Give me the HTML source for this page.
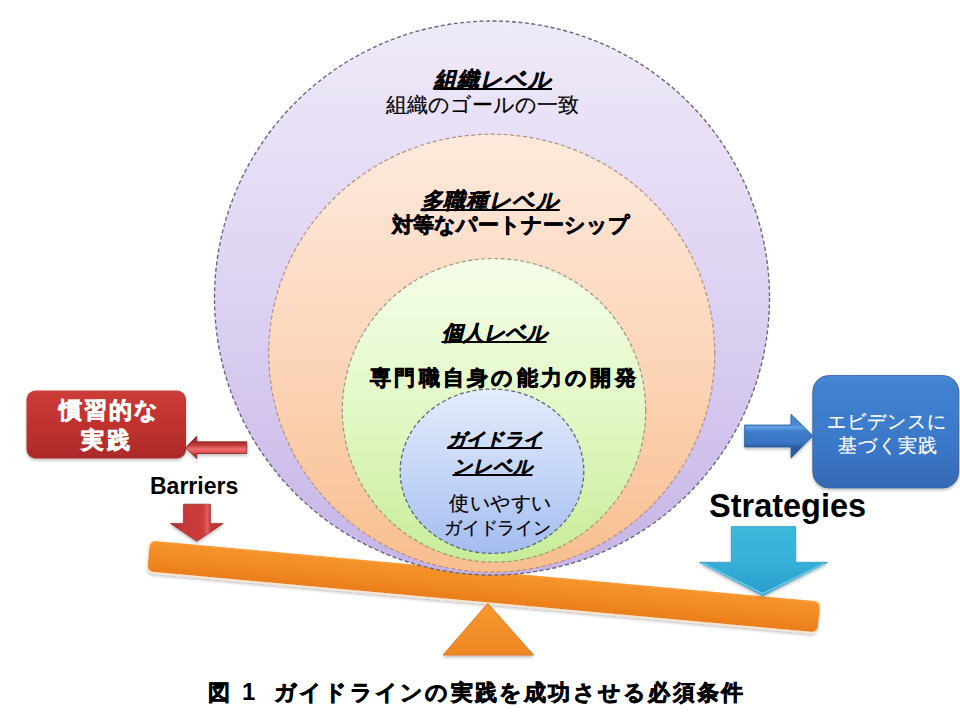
<!DOCTYPE html>
<html><head><meta charset="utf-8">
<style>
html,body{margin:0;padding:0;background:#fff;}
body{width:960px;height:720px;position:relative;overflow:hidden;font-family:"Liberation Sans",sans-serif;}
svg{position:absolute;left:0;top:0;}
.t{position:absolute;white-space:nowrap;color:#000;line-height:1;}
.b{font-weight:bold;}
.bi{font-weight:bold;font-style:italic;text-decoration:underline;text-decoration-thickness:1.5px;text-underline-offset:1px;}
.w{color:#fff;}
.k{-webkit-text-stroke:0.45px currentColor;}
.r{-webkit-text-stroke:0.2px currentColor;}
.h{-webkit-text-stroke:0.7px currentColor;}
</style></head><body>
<svg width="960" height="720" viewBox="0 0 960 720">
<defs>
<linearGradient id="gP" x1="0" y1="0" x2="0" y2="1">
<stop offset="0" stop-color="#efeaf9"/><stop offset="0.5" stop-color="#ddd2f2"/><stop offset="1" stop-color="#c6b4e6"/></linearGradient>
<linearGradient id="gO" x1="0" y1="0" x2="0" y2="1">
<stop offset="0" stop-color="#feeadd"/><stop offset="0.5" stop-color="#fcd6bb"/><stop offset="1" stop-color="#f8be8e"/></linearGradient>
<linearGradient id="gG" x1="0" y1="0" x2="0" y2="1">
<stop offset="0" stop-color="#f5fde9"/><stop offset="0.5" stop-color="#e2f8c6"/><stop offset="1" stop-color="#c8ec98"/></linearGradient>
<linearGradient id="gB" x1="0" y1="0" x2="0" y2="1">
<stop offset="0" stop-color="#e4ecfc"/><stop offset="0.5" stop-color="#c6d6f6"/><stop offset="1" stop-color="#a4bdf0"/></linearGradient>
<linearGradient id="gBar" x1="0" y1="0" x2="0" y2="1">
<stop offset="0" stop-color="#f8a040"/><stop offset="0.08" stop-color="#f5922a"/><stop offset="0.5" stop-color="#f28b24"/><stop offset="1" stop-color="#ea7e1c"/></linearGradient>
<linearGradient id="gTri" x1="0" y1="0" x2="0" y2="1">
<stop offset="0" stop-color="#f7982e"/><stop offset="1" stop-color="#ef8826"/></linearGradient>
<linearGradient id="gRed" x1="0" y1="0" x2="0" y2="1">
<stop offset="0" stop-color="#cc3c38"/><stop offset="0.5" stop-color="#bf322f"/><stop offset="1" stop-color="#ac2a2a"/></linearGradient>
<linearGradient id="gRA" gradientUnits="userSpaceOnUse" x1="0" y1="441.5" x2="0" y2="454">
<stop offset="0" stop-color="#a02c2c"/><stop offset="0.3" stop-color="#c03c3c"/><stop offset="0.6" stop-color="#ee6e6e"/><stop offset="0.85" stop-color="#e05858"/><stop offset="1" stop-color="#b03434"/></linearGradient>
<linearGradient id="gRD" x1="0" y1="0" x2="1" y2="0">
<stop offset="0" stop-color="#b83030"/><stop offset="0.3" stop-color="#c93838"/><stop offset="0.62" stop-color="#cd3c3c"/><stop offset="0.7" stop-color="#e06060"/><stop offset="0.76" stop-color="#c83a3a"/><stop offset="1" stop-color="#b02c2c"/></linearGradient>
<linearGradient id="gBlue" x1="0" y1="0" x2="0" y2="1">
<stop offset="0" stop-color="#4a8ad6"/><stop offset="0.08" stop-color="#4082d0"/><stop offset="0.6" stop-color="#3b78c8"/><stop offset="1" stop-color="#3468b4"/></linearGradient>
<linearGradient id="gBA" gradientUnits="userSpaceOnUse" x1="0" y1="424.5" x2="0" y2="447.5">
<stop offset="0" stop-color="#4a88d4"/><stop offset="0.12" stop-color="#62a2e6"/><stop offset="0.3" stop-color="#3e7cca"/><stop offset="0.8" stop-color="#3a74c2"/><stop offset="1" stop-color="#2a5aa0"/></linearGradient>
<linearGradient id="gCy" x1="0" y1="0" x2="0" y2="1">
<stop offset="0" stop-color="#3cb8dc"/><stop offset="0.5" stop-color="#36b0d8"/><stop offset="1" stop-color="#2a9ccc"/></linearGradient>
<filter id="sh" x="-10%" y="-10%" width="120%" height="130%">
<feGaussianBlur in="SourceAlpha" stdDeviation="1.5"/><feOffset dy="1.5"/><feComponentTransfer><feFuncA type="linear" slope="0.25"/></feComponentTransfer>
<feMerge><feMergeNode/><feMergeNode in="SourceGraphic"/></feMerge></filter>
</defs>
<!-- bar -->
<g transform="translate(150,540.5) rotate(5.2)" filter="url(#sh)">
<rect x="-0.5" y="0.5" width="673" height="32" rx="6" fill="#fde6c8"/>
<rect x="0" y="0" width="673" height="31" rx="6" fill="url(#gBar)"/>
</g>
<!-- triangle -->
<polygon points="487.8,603.5 533.5,655 443,655" fill="url(#gTri)" stroke="#dc7a24" stroke-width="1" stroke-linejoin="round" filter="url(#sh)"/>
<!-- circles -->
<ellipse cx="492" cy="298" rx="277.5" ry="277" fill="url(#gP)" stroke="#686280" stroke-width="1.35" stroke-dasharray="4 2.5"/>
<ellipse cx="491.7" cy="353.2" rx="223" ry="219" fill="url(#gO)" stroke="#b49080" stroke-width="1.2" stroke-dasharray="4 2.5"/>
<ellipse cx="494" cy="410.3" rx="151.7" ry="151.8" fill="url(#gG)" stroke="#969a78" stroke-width="1.2" stroke-dasharray="4 2.5"/>
<ellipse cx="492" cy="471.2" rx="91.8" ry="82.2" fill="url(#gB)" stroke="#5e687c" stroke-width="1.3" stroke-dasharray="4 2.5"/>
<!-- red box -->
<rect x="26.5" y="390.5" width="159.5" height="68" rx="9" fill="url(#gRed)" filter="url(#sh)"/>
<!-- red left arrow -->
<polygon points="185.5,447.7 196.8,436 196.8,441.8 246.8,441.8 246.8,453.5 196.8,453.5 196.8,458.6" fill="url(#gRA)" stroke="#8a2424" stroke-width="0.8" stroke-linejoin="miter" filter="url(#sh)"/>
<!-- red down arrow -->
<polygon points="183.6,504.2 210.4,504.2 210.4,523.4 223.2,523.4 196.8,541.3 170.4,523.4 183.6,523.4" fill="url(#gRD)" stroke="#8c2626" stroke-width="0.7" filter="url(#sh)"/>
<!-- blue box -->
<rect x="812.8" y="375.5" width="146" height="112.5" rx="16" fill="url(#gBlue)" stroke="#2e5e9c" stroke-width="0.8" filter="url(#sh)"/>
<!-- blue arrow -->
<polygon points="744.6,425 791,425 791,414.2 813,435.8 791,458 791,447 744.6,447" fill="url(#gBA)" stroke="#2c5a98" stroke-width="0.8" filter="url(#sh)"/>
<!-- cyan down arrow -->
<g filter="url(#sh)">
<polygon points="731.4,526.6 795.6,526.6 795.6,562.3 827.6,562.3 762.8,595.8 699.4,562.3 731.4,562.3" fill="url(#gCy)" stroke="#2a94c0" stroke-width="0.7"/>
<polyline points="703,563.5 762.8,593.8 824,563.5" fill="none" stroke="#78d2ee" stroke-width="1.6" stroke-opacity="0.8"/>
</g>
</svg>

<div class="t bi k" id="t1" style="left:434px;top:69px;font-size:22px;letter-spacing:1px;">組織レベル</div>
<div class="t r" id="t2" style="left:386px;top:94px;font-size:21px;">組織のゴールの一致</div>
<div class="t bi k" id="t3" style="left:420.5px;top:190px;font-size:22px;letter-spacing:0.7px;">多職種レベル</div>
<div class="t b k h" id="t4" style="left:392px;top:213.5px;font-size:21px;">対等なパートナーシップ</div>
<div class="t bi k" id="t5" style="left:441.5px;top:321.5px;font-size:21px;">個人レベル</div>
<div class="t b k h" id="t6" style="left:370px;top:366.5px;font-size:21px;letter-spacing:3.25px;">専門職自身の能力の開発</div>
<div class="t bi k" id="t7" style="left:447px;top:430px;font-size:19px;">ガイドライ</div>
<div class="t bi k" id="t8" style="left:452.5px;top:456.5px;font-size:19px;letter-spacing:1px;">ンレベル</div>
<div class="t r" id="t9" style="left:449px;top:492.5px;font-size:20px;letter-spacing:0.6px;">使いやすい</div>
<div class="t r" id="t10" style="left:444px;top:519px;font-size:18px;letter-spacing:-0.2px;">ガイドライン</div>
<div class="t b w k h" id="t11" style="left:59px;top:400px;font-size:22.5px;letter-spacing:1.9px;">慣習的な</div>
<div class="t b w k h" id="t12" style="left:80.5px;top:428.5px;font-size:23px;letter-spacing:3.5px;">実践</div>
<div class="t w r" id="t13" style="left:827px;top:411.5px;font-size:19px;letter-spacing:1.1px;">エビデンスに</div>
<div class="t w r" id="t14" style="left:837.5px;top:435.5px;font-size:19px;letter-spacing:1.2px;">基づく実践</div>
<div class="t b" id="t15" style="left:150px;top:474.5px;font-size:23px;">Barriers</div>
<div class="t b" id="t16" style="left:709px;top:490px;font-size:32.5px;">Strategies</div>
<div class="t b k h" id="t17" style="left:208px;top:681.5px;font-size:22px;">図</div>
<div class="t b" id="t18" style="left:242px;top:680px;font-size:24px;">1</div>
<div class="t b k h" id="t19" style="left:274px;top:681.5px;font-size:22px;letter-spacing:2.22px;">ガイドラインの実践を成功させる必須条件</div>
</body></html>
